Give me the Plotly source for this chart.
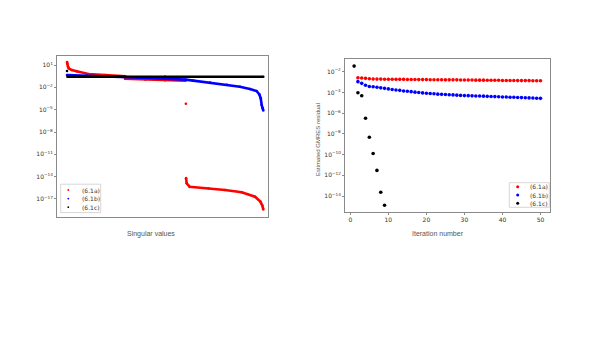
import plotly.graph_objects as go

W, H = 607, 341
OFF = 8  # browser body margin around the figure
FW, FH = W - 2 * OFF, H - 2 * OFF

# ---------------- data: singular values (left) ----------------
series_names = ["(6.1a)", "(6.1b)", "(6.1c)"]
series_colors = ["#ff0000", "#0000ff", "#000000"]

red_head_idx = [1, 2, 6, 10, 25, 50, 110, 195, 295, 297, 400, 500, 605]
red_head_val = [25, 16, 6.3, 3.5, 2.1, 1.4, 0.63, 0.46, 0.30, 0.14, 0.11, 0.089, 0.076]
red_outlier_idx = [606]
red_outlier_val = [6.3e-5]
red_tail_idx = [607, 610, 625, 720, 805, 890, 958, 985, 995, 1000]
red_tail_val = [6.3e-15, 1.3e-15, 4.5e-16, 2.7e-16, 1.6e-16, 7.9e-17, 2.0e-17, 4.4e-18, 1.3e-18, 4.0e-19]

blue_idx = [1, 100, 300, 474, 605, 644, 729, 814, 881, 932, 966, 980, 987, 992, 997, 1000]
blue_val = [0.45, 0.38, 0.25, 0.16, 0.11, 0.079, 0.045, 0.022, 0.012, 0.0059, 0.0032,
            0.0011, 3.4e-4, 4.2e-5, 1.5e-5, 7.9e-6]

black_first_idx = [1]
black_first_val = [1.6]
black_idx = [3, 500, 1000]
black_val = [0.27, 0.27, 0.27]

# ---------------- data: GMRES residuals (right) ----------------
iter_red = list(range(2, 51))
res_red = [2.6e-3, 2.5e-3, 2.3e-3, 2.1e-3, 2.0e-3,
           1.95e-3, 1.95e-3, 1.9e-3, 1.9e-3, 1.9e-3, 1.85e-3, 1.85e-3, 1.85e-3, 1.8e-3,
           1.8e-3, 1.8e-3, 1.75e-3, 1.75e-3, 1.75e-3,
           1.7e-3, 1.7e-3, 1.7e-3, 1.7e-3, 1.65e-3, 1.65e-3, 1.65e-3, 1.65e-3,
           1.6e-3, 1.6e-3, 1.6e-3, 1.6e-3, 1.55e-3, 1.55e-3, 1.55e-3,
           1.5e-3, 1.5e-3, 1.5e-3, 1.5e-3, 1.45e-3, 1.45e-3, 1.45e-3, 1.45e-3,
           1.4e-3, 1.4e-3, 1.4e-3, 1.4e-3, 1.35e-3, 1.35e-3, 1.35e-3]
iter_blue = list(range(2, 51))
res_blue = [1.1e-3, 7.6e-4, 5.0e-4, 3.8e-4, 3.5e-4, 3.2e-4, 2.8e-4, 2.5e-4, 2.2e-4,
            1.95e-4, 1.75e-4, 1.6e-4, 1.4e-4, 1.3e-4, 1.2e-4, 1.07e-4, 1.0e-4, 9.1e-5,
            8.3e-5, 7.9e-5, 7.4e-5, 6.9e-5, 6.6e-5, 6.3e-5, 6.0e-5, 5.8e-5, 5.5e-5,
            5.2e-5, 5.0e-5, 4.9e-5, 4.7e-5, 4.6e-5, 4.5e-5, 4.4e-5, 4.2e-5, 4.1e-5,
            4.0e-5, 3.8e-5, 3.7e-5, 3.6e-5, 3.5e-5, 3.4e-5, 3.3e-5, 3.2e-5, 3.1e-5,
            3.0e-5, 2.9e-5, 2.8e-5, 2.7e-5]
iter_black = [1, 2, 3, 4, 5, 6, 7, 8, 9]
res_black = [3.5e-2, 9.3e-5, 4.8e-5, 3.2e-7, 4.7e-9, 1.3e-10, 3.0e-12, 2.3e-14, 1.3e-15]

left_tick_exp = [1, -2, -5, -8, -11, -14, -17]
right_tick_exp = [-2, -4, -6, -8, -10, -12, -14]
right_xticks = [0, 10, 20, 30, 40, 50]

left_xlabel = "Singular values"
right_xlabel = "Iteration number"
right_ylabel = "Estimated GMRES residual"


def px(x):
    return (x - OFF) / FW


def py(y):
    return 1 - (y - OFF) / FH


def sup(e):
    s = str(e).replace("-", "\u2212")
    return f"10<sup>{s}</sup>"


fig = go.Figure()

# left panel: dense singular values drawn as thick line plus dots
red_x = red_head_idx + [None] + red_outlier_idx + [None] + red_tail_idx
red_y = red_head_val + [None] + red_outlier_val + [None] + red_tail_val
black_x = black_first_idx + [None] + black_idx
black_y = black_first_val + [None] + black_val
left_sets = [(red_x, red_y), (blue_idx, blue_val), (black_x, black_y)]
for (xs, ys), name, col in zip(left_sets, series_names, series_colors):
    fig.add_trace(go.Scatter(x=xs, y=ys, mode="lines+markers", name=name,
                             line=dict(color=col, width=2.6), marker=dict(color=col, size=2.6),
                             connectgaps=False, showlegend=False, xaxis="x", yaxis="y"))

# right panel
right_sets = [(iter_red, res_red), (iter_blue, res_blue), (iter_black, res_black)]
for (xs, ys), name, col in zip(right_sets, series_names, series_colors):
    fig.add_trace(go.Scatter(x=xs, y=ys, mode="markers", name=name,
                             marker=dict(color=col, size=3.6), showlegend=False,
                             xaxis="x2", yaxis="y2"))

frame = "#8a8a8a"
tickfont = dict(family="DejaVu Sans", size=6, color="#333333")

fig.update_layout(
    width=FW, height=FH, margin=dict(l=0, r=0, t=0, b=0),
    paper_bgcolor="white", plot_bgcolor="white", showlegend=False,
    xaxis=dict(domain=[px(57), px(268)], range=[-50, 1024], showline=True, mirror=True,
               linecolor=frame, linewidth=1, showgrid=False, zeroline=False,
               showticklabels=False, ticks=""),
    yaxis=dict(domain=[py(217), py(56)], type="log", range=[-19.42, 2.21], showline=True,
               mirror=True, linecolor=frame, linewidth=1, showgrid=False, zeroline=False,
               tickvals=[10 ** e for e in left_tick_exp], ticktext=[sup(e) for e in left_tick_exp],
               ticks="outside", ticklen=2, tickcolor=frame, tickfont=tickfont),
    xaxis2=dict(domain=[px(345), px(550)], range=[-1.4, 52.5], showline=True, mirror=True,
                linecolor=frame, linewidth=1, showgrid=False, zeroline=False, anchor="y2",
                tickvals=right_xticks, ticks="outside", ticklen=2, tickcolor=frame,
                tickfont=tickfont),
    yaxis2=dict(domain=[py(212), py(59)], type="log", range=[-15.54, -0.77], showline=True,
                mirror=True, linecolor=frame, linewidth=1, showgrid=False, zeroline=False,
                anchor="x2",
                tickvals=[10 ** e for e in right_tick_exp], ticktext=[sup(e) for e in right_tick_exp],
                ticks="outside", ticklen=2, tickcolor=frame, tickfont=tickfont),
)

labfont = dict(family="Liberation Sans", size=7, color="#555555")
fig.add_annotation(x=px(150.6), y=py(233.7), xref="paper", yref="paper", text=left_xlabel,
                   showarrow=False, font=labfont, xanchor="center", yanchor="middle")
fig.add_annotation(x=px(437.5), y=py(233.7), xref="paper", yref="paper", text=right_xlabel,
                   showarrow=False, font=labfont, xanchor="center", yanchor="middle")
fig.add_annotation(x=px(318), y=py(140), xref="paper", yref="paper", text=right_ylabel,
                   showarrow=False, font=dict(family="Liberation Sans", size=6, color="#555555"),
                   textangle=-90, xanchor="center", yanchor="middle")


# manual compact legends (matplotlib-style)
def add_legend(box, rows_y, mark_x, text_x, msize):
    x0, y0, x1, y1 = box
    fig.add_shape(type="rect", xref="paper", yref="paper", x0=px(x0), x1=px(x1),
                  y0=py(y1), y1=py(y0), line=dict(color="#cccccc", width=0.8),
                  fillcolor="rgba(255,255,255,0.8)")
    r = msize / 2
    for yy, name, col in zip(rows_y, series_names, series_colors):
        fig.add_shape(type="circle", xref="paper", yref="paper",
                      x0=px(mark_x - r), x1=px(mark_x + r), y0=py(yy + r), y1=py(yy - r),
                      fillcolor=col, line=dict(color=col, width=0))
        fig.add_annotation(x=px(text_x), y=py(yy), xref="paper", yref="paper", text=name,
                           showarrow=False, xanchor="left", yanchor="middle",
                           font=dict(family="DejaVu Sans", size=6, color="#333333"))


add_legend((60.7, 184.2, 100.7, 212.6), [190.0, 198.6, 207.2], 68.3, 79.5, 1.8)
add_legend((509.3, 182.7, 549.3, 207.3), [186.8, 195.0, 203.3], 517.7, 527.5, 3.0)

fig.write_html("out.html")
